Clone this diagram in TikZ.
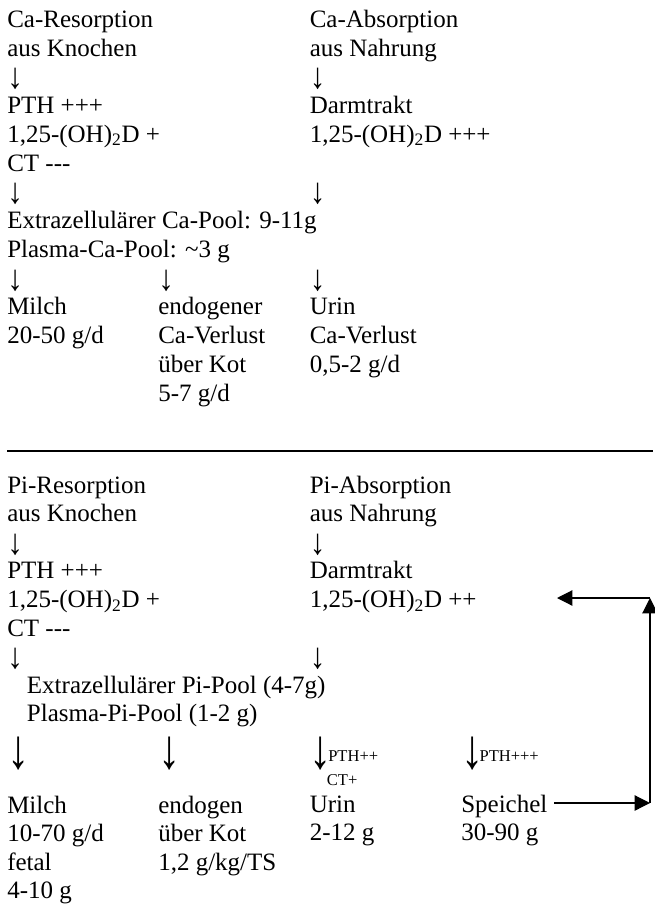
\documentclass[tikz,border=0pt]{standalone}
\usepackage{fontspec}
\usepackage{graphicx}
\setmainfont{Liberation Serif}
\usetikzlibrary{arrows.meta}
\newcommand\runter{\raisebox{-3pt}{\scalebox{1.25}[1.45]{↓}}}
\newcommand\grossrunter{\raisebox{-4.5pt}{\scalebox{1.15}[1.45]{↓}}}
\tikzset{
  txt/.style={anchor=base west, inner sep=0pt, font=\fontsize{18.75}{22}\selectfont},
  klein/.style={txt, font=\fontsize{12.4}{14}\selectfont},
  gross/.style={txt, font=\fontsize{29}{34}\selectfont},
  rueck/.style={line width=0.9pt, -{Triangle[length=11.5pt,width=11.5pt]}}
}
\begin{document}
\begin{tikzpicture}[x=0.75pt,y=-0.75pt]
  \useasboundingbox (0,0) rectangle (655,906);
  % Calcium
  \foreach \r/\t in {0/Ca-Resorption, 1/aus Knochen, 2/\runter, 3/PTH +++,
      4/{1,25-(OH)\textsubscript{2}D +}, 5/CT -{}-{}-, 6/\runter,
      7/Extrazellulärer Ca-Pool: 9-11g, 8/Plasma-Ca-Pool: \textasciitilde3 g,
      9/\runter, 10/Milch, 11/{20-50 g/d}}
    \node[txt] (caRes\r) at (7,27.3+28.75*\r) {\t};
  \foreach \r/\t in {9/\runter, 10/endogener, 11/Ca-Verlust, 12/über Kot, 13/{5-7 g/d}}
    \node[txt] (caKot\r) at (158,27.3+28.75*\r) {\t};
  \foreach \r/\t in {0/Ca-Absorption, 1/aus Nahrung, 2/\runter, 3/Darmtrakt,
      4/{1,25-(OH)\textsubscript{2}D +++}, 6/\runter, 9/\runter, 10/Urin,
      11/Ca-Verlust, 12/{0,5-2 g/d}}
    \node[txt] (caAbs\r) at (309.5,27.3+28.75*\r) {\t};
  % Trennlinie
  \draw[line width=1.1pt] (7,451) -- (653,451);
  % Phosphat
  \foreach \r/\t in {0/Pi-Resorption, 1/aus Knochen, 2/\runter, 3/PTH +++,
      4/{1,25-(OH)\textsubscript{2}D +}, 5/CT -{}-{}-, 6/\runter}
    \node[txt] (piRes\r) at (7,493+28.6*\r) {\t};
  \foreach \r/\t in {0/Pi-Absorption, 1/aus Nahrung, 2/\runter, 3/Darmtrakt,
      4/{1,25-(OH)\textsubscript{2}D ++}, 6/\runter}
    \node[txt] (piAbs\r) at (309.5,493+28.6*\r) {\t};
  \node[txt] (pool1) at (26.7,693.2) {Extrazellulärer Pi-Pool (4-7g)};
  \node[txt] (pool2) at (26.7,721.8) {Plasma-Pi-Pool (1-2 g)};
  % Ausscheidung
  \node[gross] (pfeilA) at (7,762) {\grossrunter};
  \node[gross] (pfeilB) at (158,762) {\grossrunter};
  \node[gross] (pfeilC) at (309.5,762) {\grossrunter};
  \node[gross] (pfeilD) at (461,762) {\grossrunter};
  \node[klein] (pthC) at (328,761.5) {PTH++};
  \node[klein] (ctC) at (326.7,785) {CT+};
  \node[klein] (pthD) at (479.3,761.5) {PTH+++};
  \foreach \r/\t in {0/Milch, 1/{10-70 g/d}, 2/fetal, 3/4-10 g}
    \node[txt] (milch\r) at (7,813.3+28.35*\r) {\t};
  \foreach \r/\t in {0/endogen, 1/über Kot, 2/{1,2 g/kg/TS}}
    \node[txt] (kot\r) at (158,813.3+28.35*\r) {\t};
  \foreach \r/\t in {0/Urin, 1/2-12 g}
    \node[txt] (urin\r) at (309.5,812.5+28.35*\r) {\t};
  \foreach \r/\t in {0/Speichel, 1/30-90 g}
    \node[txt] (spei\r) at (461,812.5+28.35*\r) {\t};
  % Speichel-Kreislauf
  \coordinate (ecke) at (650,803);
  \coordinate (oben) at (650,598);
  \coordinate (ziel) at (557,598);
  \draw[rueck, shorten <=5pt] (spei0.east |- ecke) -- (ecke);
  \draw[rueck] (ecke) -- (oben);
  \draw[rueck] (oben) -- (ziel);
\end{tikzpicture}
\end{document}
